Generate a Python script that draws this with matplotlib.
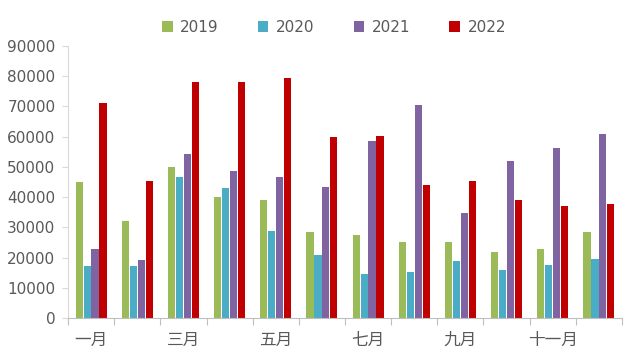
import numpy as np
import matplotlib
matplotlib.use('Agg')
import matplotlib.pyplot as plt

plt.rcParams['font.family'] = ['DejaVu Sans', 'Noto Sans CJK SC']

# Daten
months = ['一月', '二月', '三月', '四月', '五月', '六月',
          '七月', '八月', '九月', '十月', '十一月', '十二月']
years = ['2019', '2020', '2021', '2022']
v2019 = [45000, 32200, 50100, 40200, 39200, 28500, 27500, 25200, 25200, 21900, 22900, 28500]
v2020 = [17300, 17300, 46800, 43100, 28900, 20900, 14600, 15300, 18900, 15900, 17600, 19600]
v2021 = [22700, 19300, 54200, 48500, 46800, 43400, 58500, 70500, 34800, 52000, 56300, 60900]
v2022 = [71200, 45200, 78200, 78200, 79500, 60000, 60300, 44100, 45400, 39100, 37100, 37800]
colors = ['#9BBB59', '#4BACC6', '#8064A2', '#C00000']

fig = plt.figure(figsize=(6.36, 3.58), dpi=100)
ax = fig.add_axes([68 / 636, 1 - 318 / 358, 554 / 636, 272 / 358])

x = np.arange(len(months))
w = 0.155
step = 0.172
for i, (vals, c, lab) in enumerate(zip([v2019, v2020, v2021, v2022], colors, years)):
    ax.bar(x + (i - 1.5) * step, vals, width=w, color=c, label=lab, zorder=2)

ax.set_xlim(-0.5, len(months) - 0.5)
ax.set_ylim(0, 90000)
ax.set_yticks(np.arange(0, 90001, 10000))
ax.tick_params(axis='y', labelsize=11, colors='#595959', length=4, color='#D9D9D9', pad=5)

# Kategorie-Grenzen als Ticks, Beschriftung nur jeden zweiten Monat
ax.set_xticks(np.arange(-0.5, len(months), 1.0))
ax.set_xticklabels([])
ax.tick_params(axis='x', which='major', length=5, color='#BFBFBF')
ax.set_xticks(x[::2], minor=True)
ax.set_xticklabels(months[::2], minor=True, family=['Noto Sans CJK SC'])
ax.tick_params(axis='x', which='minor', length=0, labelsize=12,
               labelcolor='#595959', pad=10)

for s in ['top', 'right']:
    ax.spines[s].set_visible(False)
ax.spines['left'].set_color('#D9D9D9')
ax.spines['bottom'].set_color('#BFBFBF')

fig.legend(loc='center', bbox_to_anchor=(334 / 636, 1 - 27 / 358), ncol=4,
           frameon=False, fontsize=11, handlelength=0.7, handleheight=0.7,
           columnspacing=2.55, handletextpad=0.5, labelcolor='#595959')

fig.savefig('out.png', dpi=100)
